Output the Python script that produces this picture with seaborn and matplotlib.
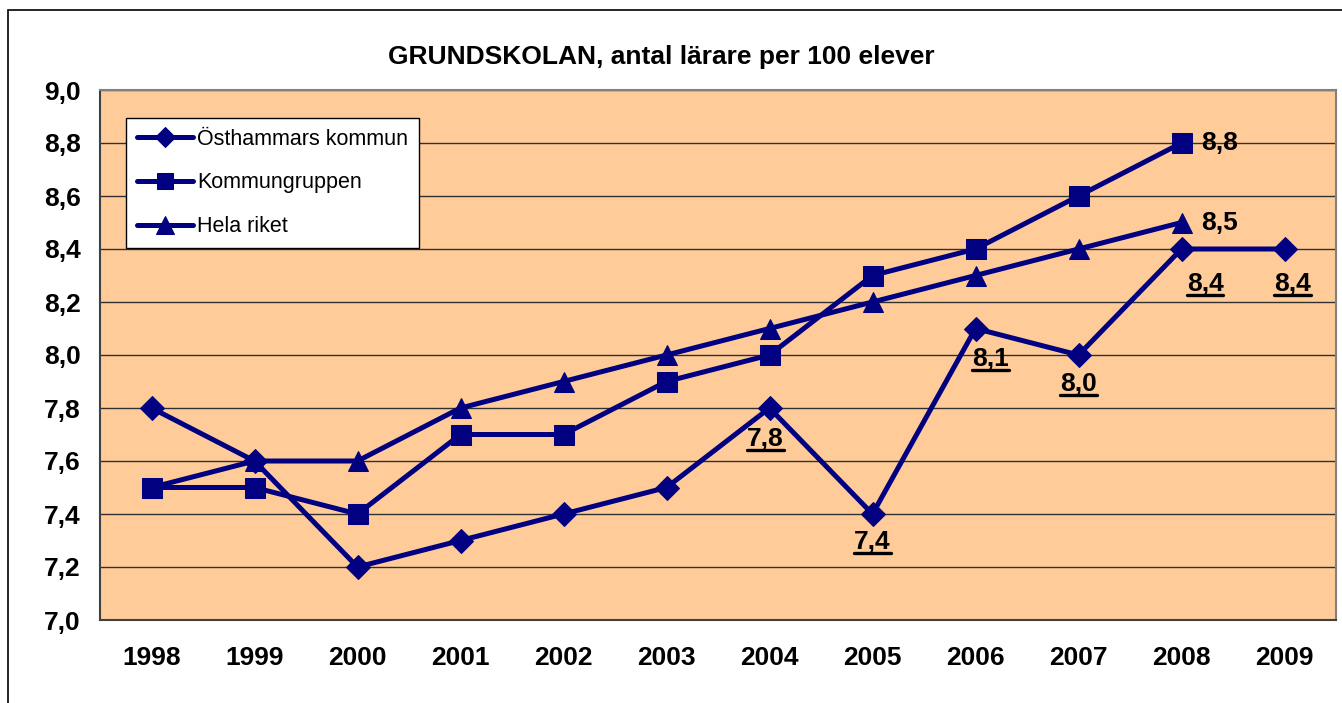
import numpy as np
import pandas as pd
import seaborn as sns
import matplotlib.pyplot as plt
from matplotlib.patches import Rectangle
from matplotlib.lines import Line2D

# Data
years = ['1998', '1999', '2000', '2001', '2002', '2003', '2004', '2005', '2006', '2007', '2008', '2009']
osthammar = [7.8, 7.6, 7.2, 7.3, 7.4, 7.5, 7.8, 7.4, 8.1, 8.0, 8.4, 8.4]
kommungruppen = [7.5, 7.5, 7.4, 7.7, 7.7, 7.9, 8.0, 8.3, 8.4, 8.6, 8.8, np.nan]
hela_riket = [7.5, 7.6, 7.6, 7.8, 7.9, 8.0, 8.1, 8.2, 8.3, 8.4, 8.5, np.nan]
y_ticks = [7.0, 7.2, 7.4, 7.6, 7.8, 8.0, 8.2, 8.4, 8.6, 8.8, 9.0]

# which Östhammar points get an underlined value label, and their offsets (points)
ost_labelled = ['2004', '2005', '2006', '2007', '2008', '2009']
ost_offsets = [(-3, -22), (0, -20), (11, -22), (0, -21), (17, -25), (6, -25)]

sns.set_style('white')
plt.rcParams['font.family'] = ['Liberation Sans', 'DejaVu Sans']
plt.rcParams['text.color'] = 'black'
plt.rcParams['xtick.color'] = 'black'
plt.rcParams['ytick.color'] = 'black'

navy = '#000080'
df = pd.DataFrame({'pos': np.arange(len(years)),
                   'Östhammars kommun': osthammar,
                   'Kommungruppen': kommungruppen,
                   'Hela riket': hela_riket})

fig = plt.figure(figsize=(13.42, 7.03), dpi=100)
ax = fig.add_axes([100 / 1342, 1 - 620 / 703, 1236 / 1342, 530 / 703])
ax.set_facecolor('#FFCC99')

# outer chart border (cut off at right/bottom like the source)
fig.patches.append(Rectangle((8 / 1342, -0.1), 1.2, 1 - 10 / 703 + 0.1,
                             transform=fig.transFigure, fill=False,
                             edgecolor='black', linewidth=1.2))

series = [('Östhammars kommun', 'D', 12), ('Kommungruppen', 's', 14), ('Hela riket', '^', 15)]
for name, mk, ms in series:
    sub = df[['pos', name]].dropna()
    sns.lineplot(x=sub['pos'], y=sub[name], ax=ax, color=navy, linewidth=3.6,
                 marker=mk, markersize=ms, markeredgecolor=navy, label=name)

ax.set_xlim(-0.5, len(years) - 0.5)
ax.set_ylim(7.0, 9.0)
ax.set_yticks(y_ticks)
ax.set_yticklabels([f'{v:.1f}'.replace('.', ',') for v in y_ticks],
                   fontsize=19, fontweight='bold')
ax.set_xticks(np.arange(len(years)))
ax.set_xticklabels(years, fontsize=19, fontweight='bold')
ax.set_xticks(np.arange(len(years) + 1) - 0.5, minor=True)
ax.tick_params(axis='x', which='major', length=0, pad=19)
ax.tick_params(axis='x', which='minor', length=7, width=1.2, color='#404040')
ax.tick_params(axis='y', length=7, width=1.2, color='#404040', pad=7)
ax.set_xlabel('')
ax.set_ylabel('')
ax.yaxis.grid(True, color='#303030', linewidth=1.0)
ax.set_axisbelow(True)
for side in ['top', 'right']:
    ax.spines[side].set_color('#808080')
    ax.spines[side].set_linewidth(1.5)
for side in ['left', 'bottom']:
    ax.spines[side].set_color('#404040')
    ax.spines[side].set_linewidth(1.5)

fig.text(661 / 1342, 1 - 57 / 703, 'GRUNDSKOLAN, antal lärare per 100 elever',
         ha='center', va='center', fontsize=19, fontweight='bold')

# value labels
underlined = []
for yr, off in zip(ost_labelled, ost_offsets):
    i = years.index(yr)
    v = osthammar[i]
    t = ax.annotate(f'{v:.1f}'.replace('.', ','), (i, v), xytext=off,
                    textcoords='offset points', ha='center', va='center',
                    fontsize=19, fontweight='bold')
    underlined.append(t)
i_end = years.index('2008')
for vals in [kommungruppen, hela_riket]:
    ax.annotate(f'{vals[i_end]:.1f}'.replace('.', ','), (i_end, vals[i_end]),
                xytext=(14, 0), textcoords='offset points', ha='left', va='center',
                fontsize=19, fontweight='bold')

leg = ax.legend(loc='upper left', bbox_to_anchor=(0.021, 0.947), borderaxespad=0,
                fontsize=15.5, frameon=True, fancybox=False, edgecolor='black',
                framealpha=1, facecolor='white',
                handlelength=2.6, handletextpad=0.2, labelspacing=1.05,
                borderpad=0.5, markerscale=0.85)
leg.get_frame().set_linewidth(1.0)

# underline the Östhammar labels
fig.canvas.draw()
inv = fig.transFigure.inverted()
for t in underlined:
    bb = t.get_window_extent()
    (x0, y0), (x1, _) = inv.transform([(bb.x0, bb.y0 + 1), (bb.x1, bb.y0)])
    fig.lines.append(Line2D([x0, x1], [y0, y0], transform=fig.transFigure,
                            color='black', linewidth=2.4))

fig.savefig('out.png', dpi=100)
